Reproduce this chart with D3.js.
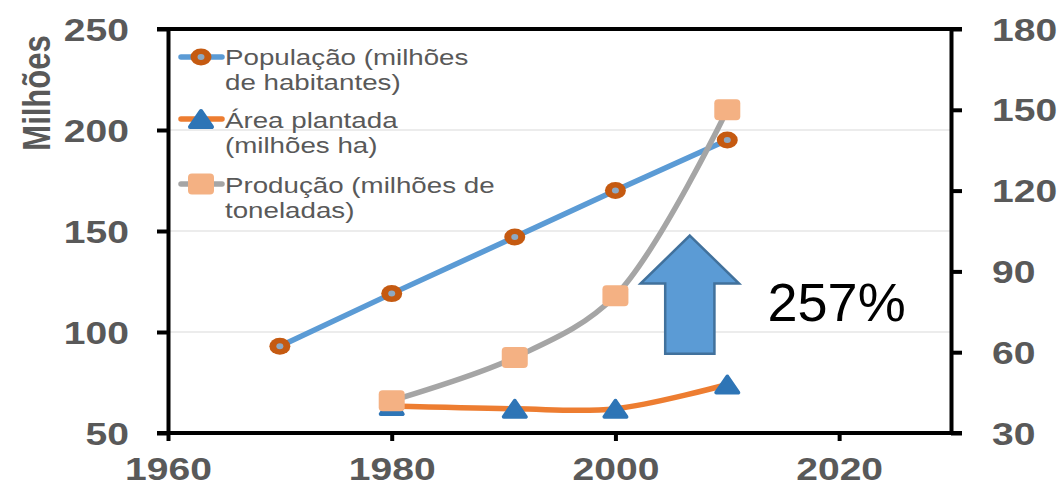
<!DOCTYPE html>
<html><head><meta charset="utf-8">
<script src="https://cdn.jsdelivr.net/npm/d3@7"></script>
<style>
html,body{margin:0;padding:0;background:#fff;}
svg{display:block;}
text{font-family:"Liberation Sans",Arial,sans-serif;}
</style></head>
<body>
<svg id="chart" width="1061" height="486"></svg>
<script>
// ---- data ----
const popYears = [1970, 1980, 1991, 2000, 2010];
const popValues = [93, 119, 147, 170, 195];
const areaYears = [1980, 1991, 2000, 2010];
const areaValues = [40, 39, 39, 48];
const prodYears = [1980, 1991, 2000, 2010];
const prodValues = [42, 58, 81, 150];
const xTicks = [1960, 1980, 2000, 2020];
const leftTicks = [50, 100, 150, 200, 250];
const rightTicks = [30, 60, 90, 120, 150, 180];
const gridTicks = [100, 150, 200];
const legendLabels = [
  ["População (milhões", "de habitantes)"],
  ["Área plantada", "(milhões ha)"],
  ["Produção (milhões de", "toneladas)"]
];
const yTitle = "Milhões";
const annotationText = "257%";
// arrow annotation in data units (x: year, y: right axis value)
const arrowX = 2006.65, arrowTip = 103.3, arrowHeadBase = 85.5, arrowBottom = 59.4;
const arrowHeadHalf = 4.4, arrowShaftHalf = 2.2;
const annotX = 2013.6, annotY = 71.7;

// ---- layout ----
const L = 168, R = 951, T = 29, B = 433;
const SX = 1.26; // horizontal stretch of the original image text
const grayText = "#595959";

const svg = d3.select("#chart");
const x = d3.scaleLinear().domain([1960, 2030]).range([L, R]);
const yL = d3.scaleLinear().domain([50, 250]).range([B, T]);
const yR = d3.scaleLinear().domain([30, 180]).range([B, T]);

// gridlines
svg.append("g").selectAll("line").data(gridTicks).join("line")
  .attr("x1", L).attr("x2", R)
  .attr("y1", d => yL(d)).attr("y2", d => yL(d))
  .attr("stroke", "#d9d9d9").attr("stroke-width", 1);

// axes
function styleAxis(g) {
  g.select(".domain").attr("stroke", "#000").attr("stroke-width", 4);
  g.selectAll(".tick line").attr("stroke", "#000").attr("stroke-width", 4);
  g.selectAll(".tick text").attr("fill", grayText).attr("font-weight", "bold")
    .attr("font-size", 31).attr("font-family", '"Liberation Sans",Arial,sans-serif');
}
const gl = svg.append("g").attr("transform", `translate(${L},0)`)
  .call(d3.axisLeft(yL).tickValues(leftTicks).tickSize(11).tickSizeOuter(0).tickFormat(d3.format("d")));
styleAxis(gl);
gl.selectAll(".tick text").attr("x", -39 / SX).attr("dy", "0.36em")
  .attr("transform", `scale(${SX},1)`);

const gr = svg.append("g").attr("transform", `translate(${R},0)`)
  .call(d3.axisRight(yR).tickValues(rightTicks).tickSize(11).tickSizeOuter(0).tickFormat(d3.format("d")));
styleAxis(gr);
gr.selectAll(".tick text").attr("x", 41 / SX).attr("dy", "0.36em")
  .attr("transform", `scale(${SX},1)`);

const gb = svg.append("g").attr("transform", `translate(0,${B})`)
  .call(d3.axisBottom(x).tickValues(xTicks).tickSize(8).tickSizeOuter(0).tickFormat(d3.format("d")));
styleAxis(gb);
gb.select(".domain").attr("d", `M${L - 11},0H${R + 11}`);
gb.selectAll(".tick text").attr("y", 47).attr("dy", 0)
  .attr("transform", `scale(${SX},1)`)
  .attr("x", function(d){ return 0; });
// bottom tick labels need x scaling compensation: tick groups already translated, so scale around 0 is fine

// top frame line
svg.append("line").attr("x1", L - 11).attr("x2", R + 11).attr("y1", T).attr("y2", T)
  .attr("stroke", "#000").attr("stroke-width", 4);

// y title
svg.append("text").text(yTitle)
  .attr("transform", `translate(50,93) scale(${SX},1) rotate(-90)`)
  .attr("text-anchor", "middle").attr("font-size", 31).attr("font-weight", "bold")
  .attr("fill", grayText);

// ---- series ----
const popData = popYears.map((d, i) => [d, popValues[i]]);
const areaData = areaYears.map((d, i) => [d, areaValues[i]]);
const prodData = prodYears.map((d, i) => [d, prodValues[i]]);

const popLine = d3.line().x(d => x(d[0])).y(d => yL(d[1])).curve(d3.curveLinear);
const rLine = d3.line().x(d => x(d[0])).y(d => yR(d[1])).curve(d3.curveCatmullRom.alpha(0.5));

svg.append("path").datum(popData).attr("d", popLine)
  .attr("fill", "none").attr("stroke", "#5b9bd5").attr("stroke-width", 5.5).attr("stroke-linecap", "round");
svg.append("path").datum(areaData).attr("d", rLine)
  .attr("fill", "none").attr("stroke", "#ed7d31").attr("stroke-width", 5.5).attr("stroke-linecap", "round");
svg.append("path").datum(prodData).attr("d", rLine)
  .attr("fill", "none").attr("stroke", "#a5a5a5").attr("stroke-width", 5.5).attr("stroke-linecap", "round");

// marker drawers
function circleMarker(g, cx, cy) {
  g.append("ellipse").attr("cx", cx).attr("cy", cy).attr("rx", 10.5).attr("ry", 8.5).attr("fill", "#c55a11");
  g.append("ellipse").attr("cx", cx).attr("cy", cy).attr("rx", 3.5).attr("ry", 3).attr("fill", "#8da9c4");
}
function triMarker(g, cx, cy) {
  const w = 11, h = 8;
  g.append("path").attr("d", `M${cx},${cy - h}L${cx + w},${cy + h}L${cx - w},${cy + h}Z`)
    .attr("fill", "#2e75b6").attr("stroke", "#2e75b6").attr("stroke-width", 4).attr("stroke-linejoin", "round");
}
function sqMarker(g, cx, cy) {
  g.append("rect").attr("x", cx - 13).attr("y", cy - 10.5).attr("width", 26).attr("height", 21)
    .attr("rx", 4).attr("fill", "#f4b183");
}

const mk = svg.append("g");
popData.forEach(d => circleMarker(mk, x(d[0]), yL(d[1])));
areaData.forEach(d => triMarker(mk, x(d[0]), yR(d[1])));
prodData.forEach(d => sqMarker(mk, x(d[0]), yR(d[1])));

// ---- legend ----
const legendSymX = 201;
const legendTextX = 225;
const legendBase = [65, 128, 193];
const legendSymY = [57, 119, 184];
const legendColors = ["#5b9bd5", "#ed7d31", "#a5a5a5"];
const lg = svg.append("g");
legendLabels.forEach((lines, i) => {
  lg.append("line").attr("x1", 181).attr("x2", 222)
    .attr("y1", legendSymY[i]).attr("y2", legendSymY[i])
    .attr("stroke", legendColors[i]).attr("stroke-width", 5.5).attr("stroke-linecap", "round");
  if (i === 0) circleMarker(lg, legendSymX, legendSymY[i]);
  if (i === 1) triMarker(lg, legendSymX, legendSymY[i]);
  if (i === 2) sqMarker(lg, legendSymX, legendSymY[i]);
  lines.forEach((t, j) => {
    lg.append("text").text(t)
      .attr("transform", `translate(${legendTextX},${legendBase[i] + j * 25}) scale(${SX},1)`)
      .attr("font-size", 22).attr("fill", grayText);
  });
});

// ---- arrow annotation ----
const ax = x(arrowX);
const hw = x(arrowX + arrowHeadHalf) - ax;
const sw = x(arrowX + arrowShaftHalf) - ax;
const arrowPts = [
  [ax, yR(arrowTip)],
  [ax + hw, yR(arrowHeadBase)],
  [ax + sw, yR(arrowHeadBase)],
  [ax + sw, yR(arrowBottom)],
  [ax - sw, yR(arrowBottom)],
  [ax - sw, yR(arrowHeadBase)],
  [ax - hw, yR(arrowHeadBase)]
];
svg.append("polygon").attr("points", arrowPts.map(p => p.join(",")).join(" "))
  .attr("fill", "#5b9bd5").attr("stroke", "#41719c").attr("stroke-width", 2.5)
  .attr("stroke-linejoin", "miter");

svg.append("text").text(annotationText)
  .attr("x", x(annotX)).attr("y", yR(annotY))
  .attr("font-size", 54).attr("fill", "#000");
</script>
</body></html>
